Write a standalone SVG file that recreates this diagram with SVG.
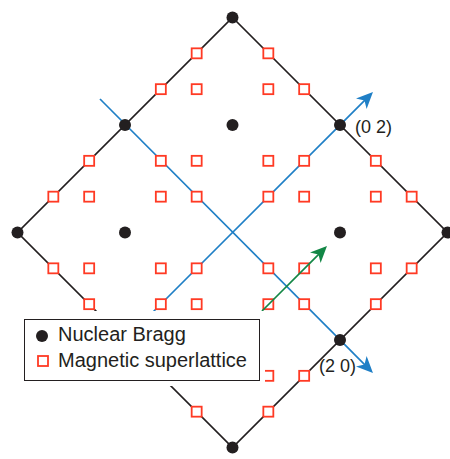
<svg xmlns="http://www.w3.org/2000/svg" xmlns:xlink="http://www.w3.org/1999/xlink" width="450" height="459" viewBox="0 0 450 459">
  <style>
    .edge { fill: none; stroke: #231f20; stroke-width: 1.7; stroke-linejoin: miter; }
    .axis { fill: none; stroke: #1f7fc6; stroke-width: 1.7; }
    .qvec { fill: none; stroke: #138746; stroke-width: 1.7; }
    .sq { fill: #ffffff; stroke: #ff3a24; stroke-width: 1.8; }
    .dot { fill: #231f20; }
    .lbl { font-family: "Liberation Sans", Arial, sans-serif; fill: #231f20; }
  </style>
  <defs>
    <rect id="sq" class="sq" x="-5" y="-5" width="10" height="10"/>
    <circle id="dot" class="dot" r="6"/>
    <marker id="head-blue" markerUnits="userSpaceOnUse" viewBox="-8 -9 20 18" refX="0" refY="0" markerWidth="20" markerHeight="18" orient="auto">
      <path d="M10,0 L-6.5,-7.5 L-2,0 L-6.5,7.5 Z" fill="#1f7fc6"/>
    </marker>
    <marker id="head-green" markerUnits="userSpaceOnUse" viewBox="-8 -9 20 18" refX="0" refY="0" markerWidth="20" markerHeight="18" orient="auto">
      <path d="M10,0 L-6.5,-7.5 L-2,0 L-6.5,7.5 Z" fill="#138746"/>
    </marker>
  </defs>

  <!-- zone boundary -->
  <g id="zone">
    <polygon class="edge" points="232.5,17.5 447.5,232.5 232.5,447.5 17.5,232.5"/>
  </g>

  <g id="connectors">
    <!-- reciprocal axes -->
    <line class="axis" x1="100" y1="99" x2="365.9" y2="365.9" marker-end="url(#head-blue)"/>
    <line class="axis" x1="150" y1="315" x2="365.9" y2="99.1" marker-end="url(#head-blue)"/>
  </g>

  <!-- magnetic superlattice peaks -->
  <g id="superlattice">
    <use xlink:href="#sq" x="196.67" y="196.67"/>
    <use xlink:href="#sq" x="196.67" y="160.83"/>
    <use xlink:href="#sq" x="196.67" y="89.17"/>
    <use xlink:href="#sq" x="196.67" y="53.33"/>
    <use xlink:href="#sq" x="160.83" y="196.67"/>
    <use xlink:href="#sq" x="160.83" y="160.83"/>
    <use xlink:href="#sq" x="160.83" y="89.17"/>
    <use xlink:href="#sq" x="89.17" y="196.67"/>
    <use xlink:href="#sq" x="89.17" y="160.83"/>
    <use xlink:href="#sq" x="53.33" y="196.67"/>

    <use xlink:href="#sq" x="268.33" y="196.67"/>
    <use xlink:href="#sq" x="268.33" y="160.83"/>
    <use xlink:href="#sq" x="268.33" y="89.17"/>
    <use xlink:href="#sq" x="268.33" y="53.33"/>
    <use xlink:href="#sq" x="304.17" y="196.67"/>
    <use xlink:href="#sq" x="304.17" y="160.83"/>
    <use xlink:href="#sq" x="304.17" y="89.17"/>
    <use xlink:href="#sq" x="375.83" y="196.67"/>
    <use xlink:href="#sq" x="375.83" y="160.83"/>
    <use xlink:href="#sq" x="411.67" y="196.67"/>

    <use xlink:href="#sq" x="196.67" y="268.33"/>
    <use xlink:href="#sq" x="196.67" y="304.17"/>
    <use xlink:href="#sq" x="196.67" y="375.83"/>
    <use xlink:href="#sq" x="196.67" y="411.67"/>
    <use xlink:href="#sq" x="160.83" y="268.33"/>
    <use xlink:href="#sq" x="160.83" y="304.17"/>
    <use xlink:href="#sq" x="160.83" y="375.83"/>
    <use xlink:href="#sq" x="89.17" y="268.33"/>
    <use xlink:href="#sq" x="89.17" y="304.17"/>
    <use xlink:href="#sq" x="53.33" y="268.33"/>

    <use xlink:href="#sq" x="268.33" y="268.33"/>
    <use xlink:href="#sq" x="268.33" y="304.17"/>
    <use xlink:href="#sq" x="268.33" y="375.83"/>
    <use xlink:href="#sq" x="268.33" y="411.67"/>
    <use xlink:href="#sq" x="304.17" y="268.33"/>
    <use xlink:href="#sq" x="304.17" y="304.17"/>
    <use xlink:href="#sq" x="304.17" y="375.83"/>
    <use xlink:href="#sq" x="375.83" y="268.33"/>
    <use xlink:href="#sq" x="375.83" y="304.17"/>
    <use xlink:href="#sq" x="411.67" y="268.33"/>
  </g>

  <!-- nuclear Bragg peaks -->
  <g id="bragg">
    <use xlink:href="#dot" x="232.5" y="17.5"/>
    <use xlink:href="#dot" x="17.5" y="232.5"/>
    <use xlink:href="#dot" x="447.5" y="232.5"/>
    <use xlink:href="#dot" x="232.5" y="447.5"/>
    <use xlink:href="#dot" x="125" y="125"/>
    <use xlink:href="#dot" x="340" y="125"/>
    <use xlink:href="#dot" x="125" y="340"/>
    <use xlink:href="#dot" x="340" y="340"/>
    <use xlink:href="#dot" x="232.5" y="125"/>
    <use xlink:href="#dot" x="125" y="232.5"/>
    <use xlink:href="#dot" x="340" y="232.5"/>
    <use xlink:href="#dot" x="232.5" y="340"/>
  </g>

  <!-- propagation vector -->
  <g id="q-vector">
    <line class="qvec" x1="262" y1="311" x2="319.9" y2="253.1" marker-end="url(#head-green)"/>
  </g>

  <g id="labels">
    <text class="lbl" x="355" y="133" font-size="18">(0 2)</text>
    <text class="lbl" x="319" y="372" font-size="18">(2 0)</text>
  </g>

  <g id="legend">
    <rect x="19" y="311" width="246" height="75" fill="#ffffff"/>
    <rect x="24.5" y="319.5" width="235" height="61" fill="#ffffff" stroke="#231f20" stroke-width="1"/>
    <use xlink:href="#dot" x="42" y="336"/>
    <use xlink:href="#sq" x="43" y="361"/>
    <text class="lbl" x="58" y="341" font-size="20">Nuclear Bragg</text>
    <text class="lbl" x="58" y="367" font-size="20">Magnetic superlattice</text>
  </g>
</svg>
